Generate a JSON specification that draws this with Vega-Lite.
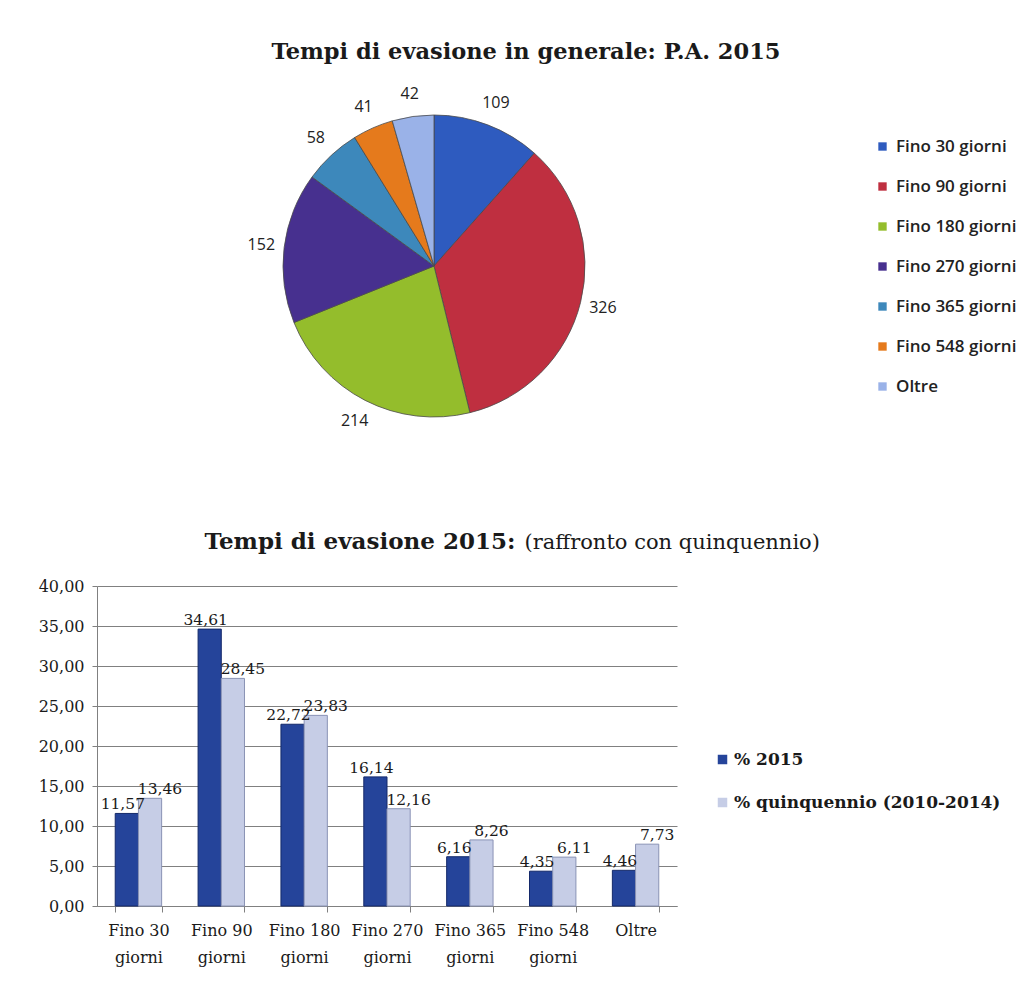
{
  "$schema": "https://vega.github.io/schema/vega-lite/v6.json",
  "background": "#ffffff",
  "padding": {"left": 38, "top": 41, "right": 0, "bottom": 10},
  "spacing": 84,
  "config": {
    "locale": {"number": {"decimal": ",", "thousands": ".", "grouping": [3], "currency": ["", " €"]}},
    "view": {"stroke": null}
  },
  "vconcat": [
    {
      "width": 674,
      "height": 360,
      "title": {
        "text": "Tempi di evasione in generale: P.A. 2015",
        "font": "DejaVu Serif",
        "fontSize": 22.5,
        "fontWeight": "bold",
        "color": "#1a1a1a",
        "anchor": "middle",
        "dx": 92,
        "offset": 22
      },
      "data": {
        "values": [
          {"categoria": "Fino 30 giorni", "valore": 109, "ordine": 1},
          {"categoria": "Fino 90 giorni", "valore": 326, "ordine": 2},
          {"categoria": "Fino 180 giorni", "valore": 214, "ordine": 3},
          {"categoria": "Fino 270 giorni", "valore": 152, "ordine": 4},
          {"categoria": "Fino 365 giorni", "valore": 58, "ordine": 5},
          {"categoria": "Fino 548 giorni", "valore": 41, "ordine": 6},
          {"categoria": "Oltre", "valore": 42, "ordine": 7}
        ]
      },
      "encoding": {
        "theta": {"field": "valore", "type": "quantitative", "stack": true},
        "order": {"field": "ordine", "type": "quantitative"}
      },
      "layer": [
        {
          "mark": {"type": "arc", "outerRadius": 151, "stroke": "#4a4a4a", "strokeWidth": 0.8},
          "encoding": {
            "color": {
              "field": "categoria",
              "type": "nominal",
              "sort": ["Fino 30 giorni", "Fino 90 giorni", "Fino 180 giorni", "Fino 270 giorni", "Fino 365 giorni", "Fino 548 giorni", "Oltre"],
              "scale": {
                "domain": ["Fino 30 giorni", "Fino 90 giorni", "Fino 180 giorni", "Fino 270 giorni", "Fino 365 giorni", "Fino 548 giorni", "Oltre"],
                "range": ["#2e5bbf", "#bf2f40", "#94bd2c", "#47308f", "#3d88bb", "#e57a1c", "#9ab2e8"]
              },
              "legend": {
                "orient": "none",
                "legendX": 777,
                "legendY": 52,
                "title": null,
                "padding": 0,
                "symbolType": "square",
                "symbolSize": 70,
                "symbolStrokeWidth": 0,
                "labelFont": "Open Sans",
                "labelFontSize": 17,
                "labelFontWeight": 600,
                "labelColor": "#222222",
                "labelOffset": 5,
                "rowPadding": 22,
                "labelLimit": 300
              }
            }
          }
        },
        {
          "mark": {"type": "text", "radius": 174, "font": "Open Sans", "fontSize": 16, "fontWeight": 500},
          "encoding": {
            "text": {"field": "valore", "type": "quantitative"},
            "detail": {"field": "categoria", "type": "nominal"},
            "color": {"value": "#222222"}
          }
        }
      ]
    },
    {
      "width": 580,
      "height": 320,
      "data": {
        "values": [
          {"categoria": "Fino 30 giorni", "serie": "% 2015", "valore": 11.57},
          {"categoria": "Fino 30 giorni", "serie": "% quinquennio (2010-2014)", "valore": 13.46},
          {"categoria": "Fino 90 giorni", "serie": "% 2015", "valore": 34.61},
          {"categoria": "Fino 90 giorni", "serie": "% quinquennio (2010-2014)", "valore": 28.45},
          {"categoria": "Fino 180 giorni", "serie": "% 2015", "valore": 22.72},
          {"categoria": "Fino 180 giorni", "serie": "% quinquennio (2010-2014)", "valore": 23.83},
          {"categoria": "Fino 270 giorni", "serie": "% 2015", "valore": 16.14},
          {"categoria": "Fino 270 giorni", "serie": "% quinquennio (2010-2014)", "valore": 12.16},
          {"categoria": "Fino 365 giorni", "serie": "% 2015", "valore": 6.16},
          {"categoria": "Fino 365 giorni", "serie": "% quinquennio (2010-2014)", "valore": 8.26},
          {"categoria": "Fino 548 giorni", "serie": "% 2015", "valore": 4.35},
          {"categoria": "Fino 548 giorni", "serie": "% quinquennio (2010-2014)", "valore": 6.11},
          {"categoria": "Oltre", "serie": "% 2015", "valore": 4.46},
          {"categoria": "Oltre", "serie": "% quinquennio (2010-2014)", "valore": 7.73}
        ]
      },
      "encoding": {
        "x": {
          "field": "categoria",
          "type": "nominal",
          "sort": ["Fino 30 giorni", "Fino 90 giorni", "Fino 180 giorni", "Fino 270 giorni", "Fino 365 giorni", "Fino 548 giorni", "Oltre"],
          "scale": {"paddingInner": 0.44, "paddingOuter": 0.22},
          "axis": {
            "title": "Tempi di evasione 2015:",
            "titleFont": "DejaVu Serif",
            "titleFontSize": 23,
            "titleFontWeight": "bold",
            "titleColor": "#1a1a1a",
            "titleX": 107,
            "titleY": -358,
            "titleAlign": "left",
            "titleBaseline": "alphabetic",
            "labelExpr": "isString(datum.value) ? (datum.value == 'Oltre' ? 'Oltre' : [replace(datum.value, ' giorni', ''), 'giorni']) : ''",
            "labelAngle": 0,
            "labelFont": "DejaVu Serif",
            "labelFontSize": 16,
            "labelColor": "#1a1a1a",
            "labelLineHeight": 27,
            "labelPadding": 10,
            "labelOverlap": false,
            "labelBound": false,
            "labelLimit": 200,
            "tickBand": "extent",
            "tickSize": 6,
            "tickColor": "#808080",
            "domainColor": "#808080",
            "grid": false
          }
        },
        "xOffset": {"field": "serie", "type": "nominal", "sort": ["% 2015", "% quinquennio (2010-2014)"]},
        "y": {
          "field": "valore",
          "type": "quantitative",
          "scale": {"domain": [0, 40]},
          "axis": {
            "values": [0, 5, 10, 15, 20, 25, 30, 35, 40],
            "format": ".2f",
            "title": "(raffronto con quinquennio)",
            "titleAngle": 0,
            "titleFont": "DejaVu Serif",
            "titleFontSize": 21,
            "titleFontWeight": "normal",
            "titleColor": "#1a1a1a",
            "titleX": 427,
            "titleY": -38,
            "titleAlign": "left",
            "titleBaseline": "alphabetic",
            "labelFont": "DejaVu Serif",
            "labelFontSize": 16,
            "labelColor": "#1a1a1a",
            "labelPadding": 8,
            "tickSize": 5,
            "tickColor": "#808080",
            "domainColor": "#808080",
            "grid": true,
            "gridColor": "#808080",
            "gridWidth": 1
          }
        }
      },
      "layer": [
        {
          "mark": {"type": "bar", "strokeWidth": 1},
          "encoding": {
            "color": {
              "field": "serie",
              "type": "nominal",
              "scale": {"domain": ["% 2015", "% quinquennio (2010-2014)"], "range": ["#25449a", "#c6cde6"]},
              "legend": {
                "orient": "none",
                "legendX": 617,
                "legendY": 165,
                "title": null,
                "padding": 0,
                "symbolType": "square",
                "symbolSize": 90,
                "symbolStrokeWidth": 0,
                "labelFont": "DejaVu Serif",
                "labelFontSize": 17,
                "labelFontWeight": "bold",
                "labelColor": "#1a1a1a",
                "labelOffset": 3,
                "rowPadding": 25,
                "labelLimit": 400
              }
            },
            "stroke": {
              "field": "serie",
              "type": "nominal",
              "scale": {"domain": ["% 2015", "% quinquennio (2010-2014)"], "range": ["#14296a", "#8a93b5"]},
              "legend": null
            }
          }
        },
        {
          "transform": [{"filter": "datum.serie == '% 2015'"}],
          "mark": {"type": "text", "dy": -9, "dx": -4, "font": "DejaVu Serif", "fontSize": 15.5, "color": "#1a1a1a"},
          "encoding": {
            "text": {"field": "valore", "type": "quantitative", "format": ".2f"}
          }
        },
        {
          "transform": [{"filter": "datum.serie != '% 2015'"}],
          "mark": {"type": "text", "dy": -9, "dx": 10, "font": "DejaVu Serif", "fontSize": 15.5, "color": "#1a1a1a"},
          "encoding": {
            "text": {"field": "valore", "type": "quantitative", "format": ".2f"}
          }
        }
      ]
    }
  ],
  "resolve": {"scale": {"color": "independent"}, "legend": {"color": "independent"}}
}
